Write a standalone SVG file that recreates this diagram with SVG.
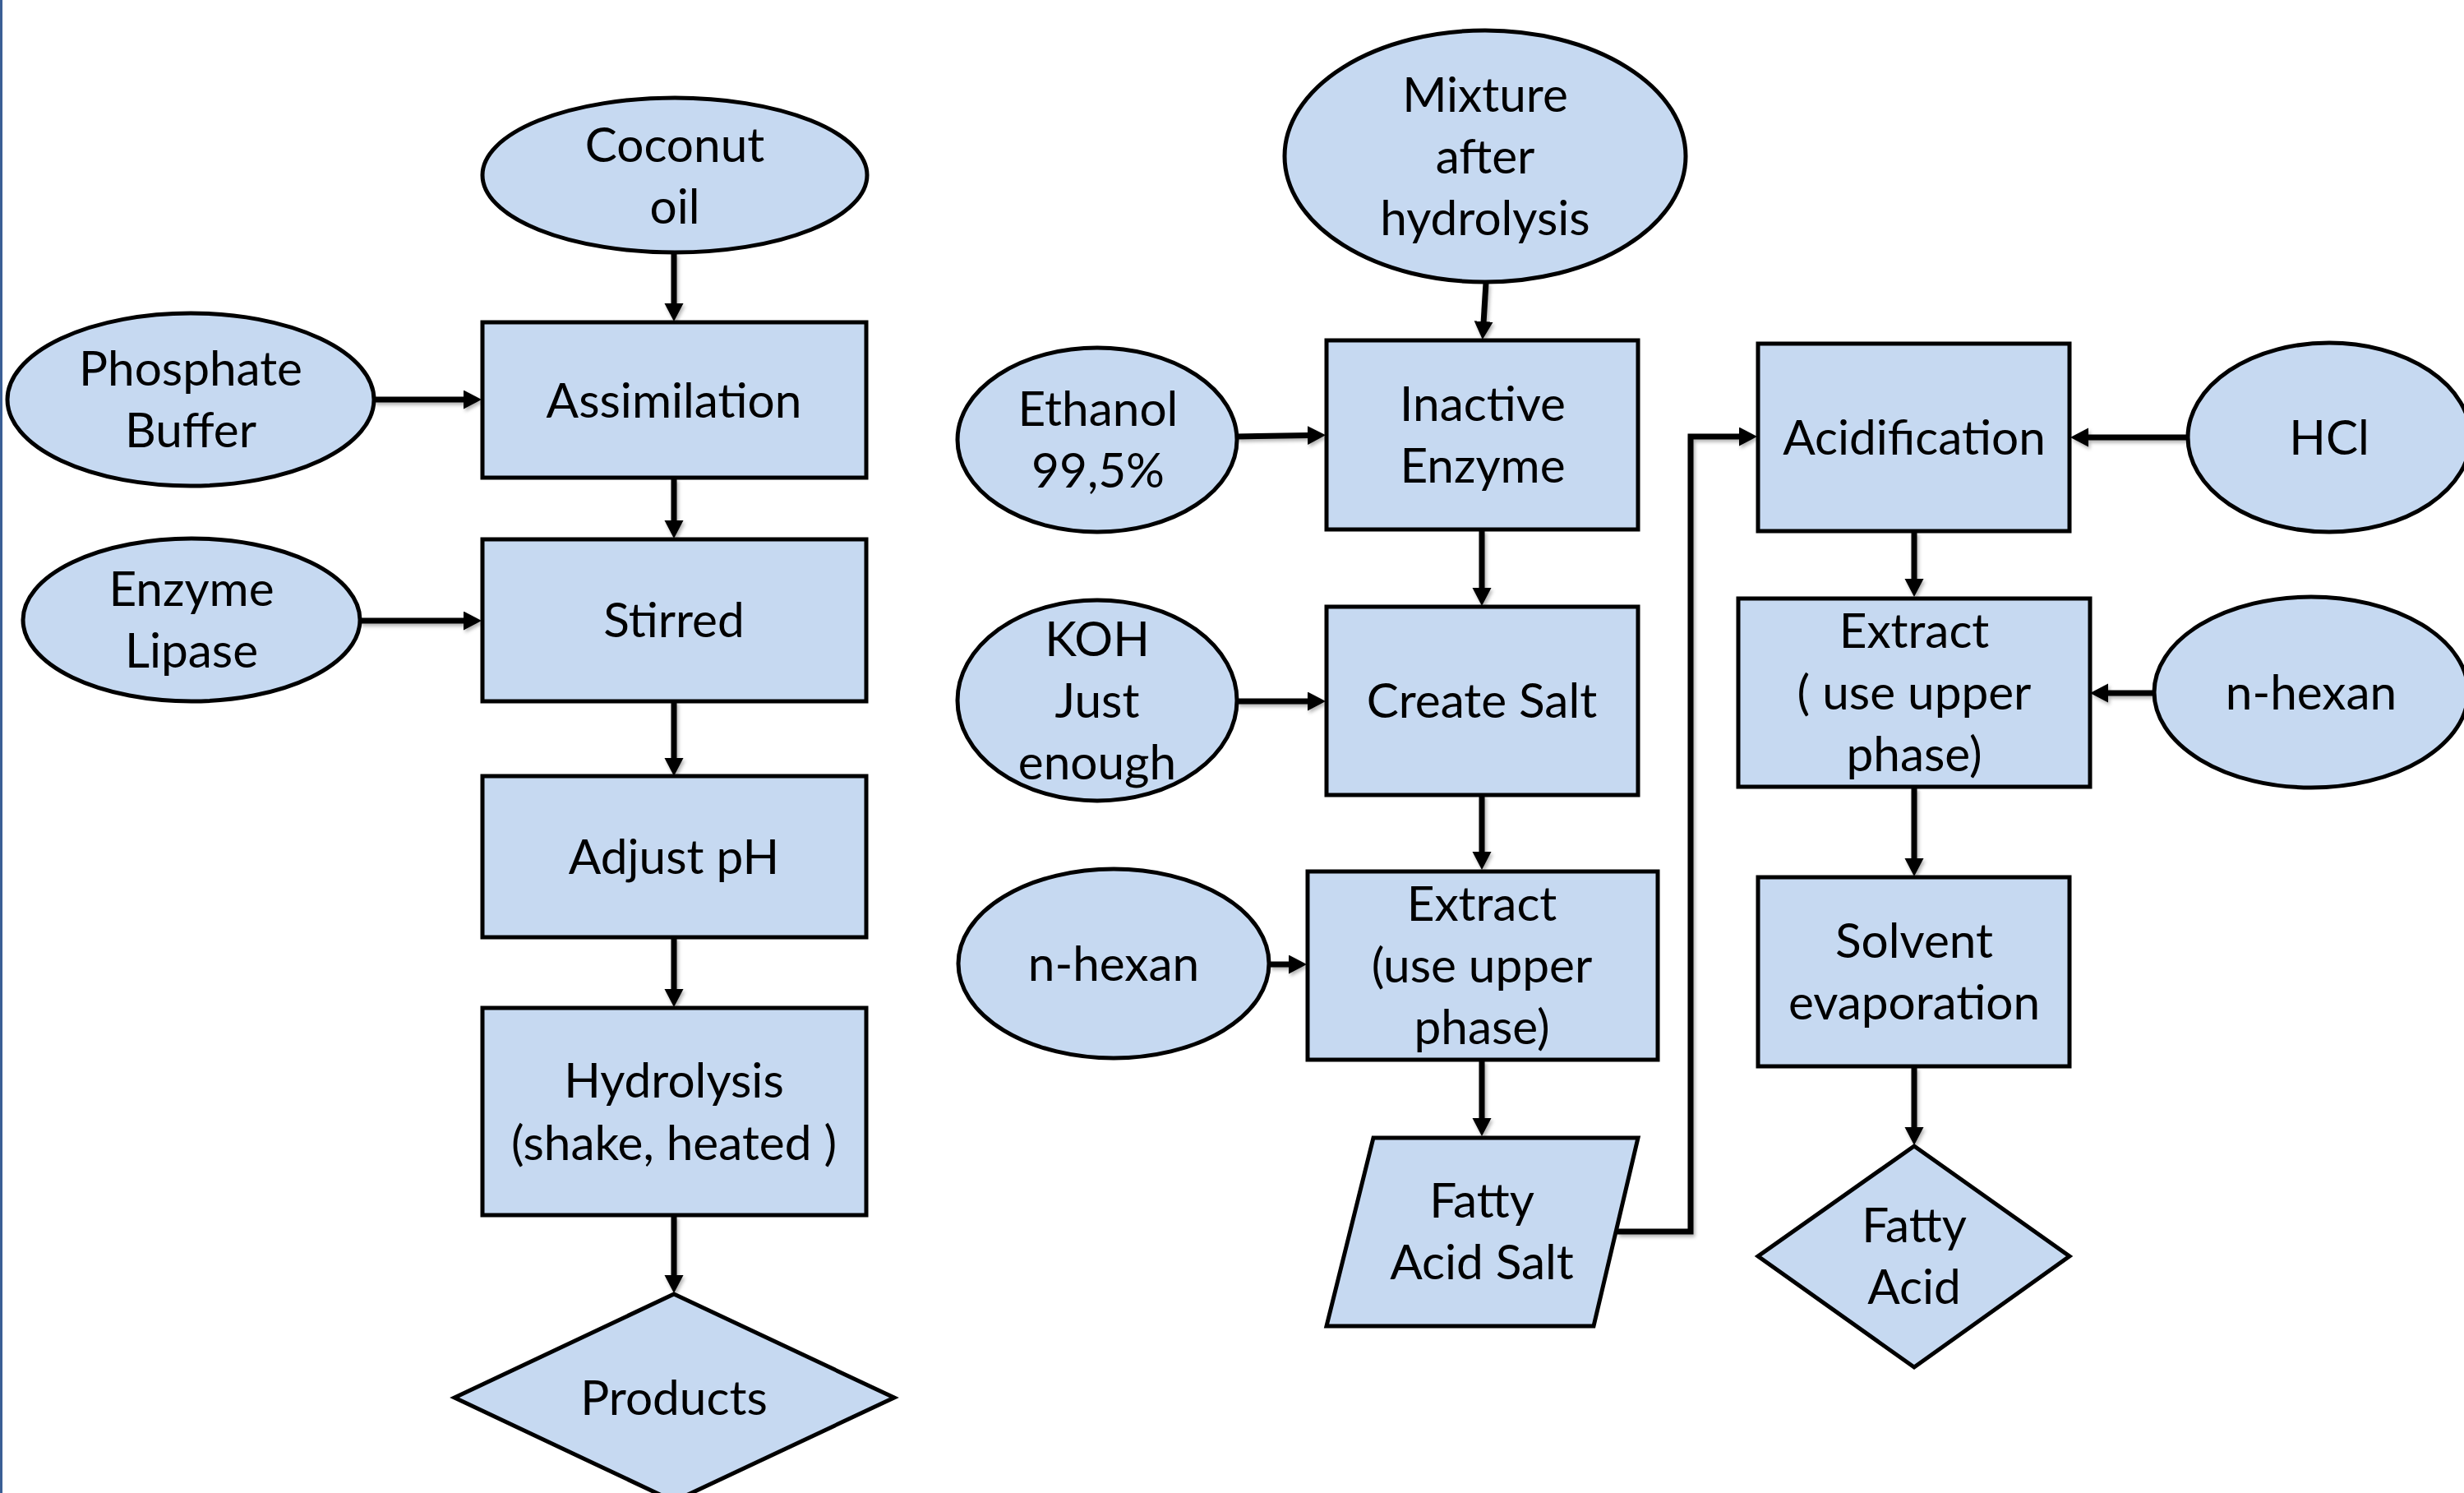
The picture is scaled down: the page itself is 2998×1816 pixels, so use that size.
<svg xmlns="http://www.w3.org/2000/svg" width="2998" height="1816" viewBox="0 0 2998 1816">
<defs>
<style>
.n{fill:#C6D9F1;stroke:#000;stroke-width:5}
.t{font-family:Lato,"Liberation Sans",sans-serif;font-size:58.5px;fill:#000;text-anchor:middle}
.c{fill:none;stroke:#000;stroke-width:7}
</style>
<marker id="ah" markerUnits="userSpaceOnUse" markerWidth="24" markerHeight="24" refX="2" refY="11.5" orient="auto">
<path d="M0,0 L22,11.5 L0,23 z" fill="#000"/>
</marker>
<filter id="sh" x="-5%" y="-5%" width="110%" height="110%">
<feDropShadow dx="2" dy="3" stdDeviation="2" flood-color="#000" flood-opacity="0.3"/>
</filter>
</defs>
<rect x="0" y="0" width="2998" height="1816" fill="#fff"/>
<rect x="0" y="0" width="3" height="1816" fill="#3B5F95"/>

<g id="connectors" filter="url(#sh)">
<path class="c" d="M820,308 V371" marker-end="url(#ah)"/>
<path class="c" d="M455,486 H566" marker-end="url(#ah)"/>
<path class="c" d="M820,582 V635" marker-end="url(#ah)"/>
<path class="c" d="M438,755 H566" marker-end="url(#ah)"/>
<path class="c" d="M820,853 V924" marker-end="url(#ah)"/>
<path class="c" d="M820,1140 V1205" marker-end="url(#ah)"/>
<path class="c" d="M820,1479 V1553" marker-end="url(#ah)"/>
<path class="c" d="M1808,344 L1805,393" marker-end="url(#ah)"/>
<path class="c" d="M1505,531 L1593,529.5" marker-end="url(#ah)"/>
<path class="c" d="M1803,645 V717" marker-end="url(#ah)"/>
<path class="c" d="M1505,853 H1593" marker-end="url(#ah)"/>
<path class="c" d="M1803,967 V1038" marker-end="url(#ah)"/>
<path class="c" d="M1545,1173 H1570" marker-end="url(#ah)"/>
<path class="c" d="M1803,1290 V1362" marker-end="url(#ah)"/>
<path class="c" d="M1968,1498 H2057 V531 H2118" marker-end="url(#ah)"/>
<path class="c" d="M2662,532 H2539" marker-end="url(#ah)"/>
<path class="c" d="M2329,647 V706" marker-end="url(#ah)"/>
<path class="c" d="M2621,843 H2563" marker-end="url(#ah)"/>
<path class="c" d="M2329,958 V1046" marker-end="url(#ah)"/>
<path class="c" d="M2329,1298 V1373" marker-end="url(#ah)"/>
</g>

<g id="coconut-oil"><ellipse class="n" cx="821" cy="213" rx="234" ry="94"/><text class="t" x="821" y="197">Coconut</text><text class="t" x="821" y="272">oil</text></g>
<g id="phosphate-buffer"><ellipse class="n" cx="232" cy="486" rx="223" ry="105"/><text class="t" x="232" y="469">Phosphate</text><text class="t" x="232" y="544">Buffer</text></g>
<g id="assimilation"><rect class="n" x="587" y="392" width="467" height="189"/><text class="t" x="820" y="508">Assimilation</text></g>
<g id="enzyme-lipase"><ellipse class="n" cx="233" cy="754" rx="205" ry="99"/><text class="t" x="233" y="737">Enzyme</text><text class="t" x="233" y="812">Lipase</text></g>
<g id="stirred"><rect class="n" x="587" y="656" width="467" height="197"/><text class="t" x="820" y="775">Stirred</text></g>
<g id="adjust-ph"><rect class="n" x="587" y="944" width="467" height="196"/><text class="t" x="820" y="1063">Adjust pH</text></g>
<g id="hydrolysis"><rect class="n" x="587" y="1226" width="467" height="252"/><text class="t" x="820" y="1335">Hydrolysis</text><text class="t" x="820" y="1411">(shake, heated )</text></g>
<g id="products"><polygon class="n" points="820,1574 1088,1700 820,1826 553,1700"/><text class="t" x="820" y="1721">Products</text></g>

<g id="mixture"><ellipse class="n" cx="1807" cy="190" rx="244" ry="153"/><text class="t" x="1807" y="136">Mixture</text><text class="t" x="1807" y="211">after</text><text class="t" x="1807" y="286">hydrolysis</text></g>
<g id="ethanol"><ellipse class="n" cx="1335" cy="535" rx="170" ry="112"/><text class="t" x="1336" y="518">Ethanol</text><text class="t" x="1336" y="593">99,5%</text></g>
<g id="inactive-enzyme"><rect class="n" x="1614" y="414" width="379" height="230"/><text class="t" x="1804" y="512">Inactive</text><text class="t" x="1804" y="587">Enzyme</text></g>
<g id="koh"><ellipse class="n" cx="1335" cy="852" rx="170" ry="122"/><text class="t" x="1335" y="798">KOH</text><text class="t" x="1335" y="873">Just</text><text class="t" x="1335" y="948">enough</text></g>
<g id="create-salt"><rect class="n" x="1614" y="738" width="379" height="229"/><text class="t" x="1803" y="873">Create Salt</text></g>
<g id="n-hexan-1"><ellipse class="n" cx="1355" cy="1172" rx="189" ry="115"/><text class="t" x="1355" y="1193">n-hexan</text></g>
<g id="extract-1"><rect class="n" x="1591" y="1060" width="426" height="229"/><text class="t" x="1803" y="1120">Extract</text><text class="t" x="1803" y="1195">(use upper</text><text class="t" x="1803" y="1270">phase)</text></g>
<g id="fatty-acid-salt"><polygon class="n" points="1671,1384 1993,1384 1939,1613 1614,1613"/><text class="t" x="1803" y="1481">Fatty</text><text class="t" x="1803" y="1556">Acid Salt</text></g>

<g id="acidification"><rect class="n" x="2139" y="418" width="379" height="228"/><text class="t" x="2329" y="553">Acidification</text></g>
<g id="hcl"><ellipse class="n" cx="2834" cy="532" rx="172" ry="115"/><text class="t" x="2834" y="553">HCl</text></g>
<g id="extract-2"><rect class="n" x="2115" y="728" width="428" height="229"/><text class="t" x="2329" y="788">Extract</text><text class="t" x="2329" y="863">( use upper</text><text class="t" x="2329" y="938">phase)</text></g>
<g id="n-hexan-2"><ellipse class="n" cx="2812" cy="842" rx="191" ry="116"/><text class="t" x="2812" y="863">n-hexan</text></g>
<g id="solvent-evaporation"><rect class="n" x="2139" y="1067" width="379" height="230"/><text class="t" x="2329" y="1165">Solvent</text><text class="t" x="2329" y="1240">evaporation</text></g>
<g id="fatty-acid"><polygon class="n" points="2329,1394 2518,1528 2329,1663 2139,1528"/><text class="t" x="2329" y="1511">Fatty</text><text class="t" x="2329" y="1586">Acid</text></g>
</svg>
